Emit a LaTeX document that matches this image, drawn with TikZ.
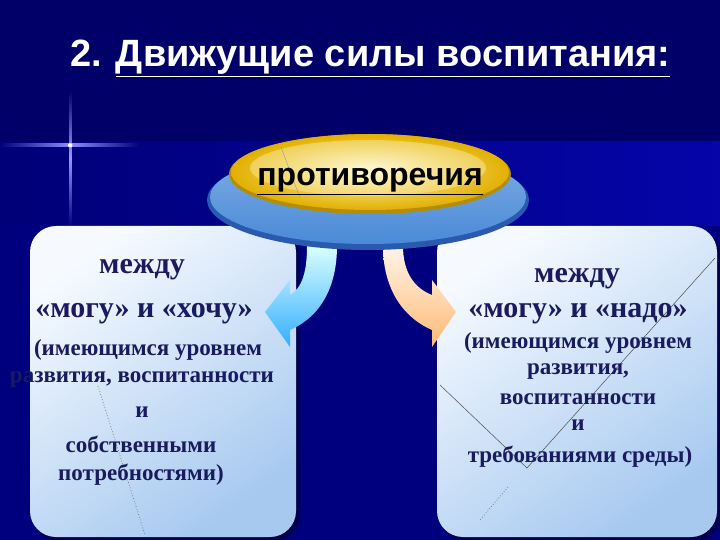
\documentclass[tikz,border=0pt]{standalone}
\usepackage{fontspec}
\setmainfont{Liberation Serif}
\newfontfamily\arialf{Liberation Sans}
\definecolor{bgtop}{HTML}{000068}
\definecolor{bgbot}{HTML}{00007E}
\definecolor{bandl}{HTML}{000078}
\definecolor{bandr}{HTML}{0505A8}
\definecolor{boxl}{HTML}{F6FAFF}
\definecolor{boxr}{HTML}{9DC3EE}
\definecolor{txtc}{HTML}{1A1A5E}
\definecolor{ellb}{HTML}{4A8AD8}
\definecolor{ellbd}{HTML}{2A5AB0}
\definecolor{ellyo}{HTML}{E2B000}
\definecolor{ellyi}{HTML}{FFF6C0}
\tikzset{
  slidebox/.style={rounded corners=26pt},
  bigt/.style={font=\bfseries\fontsize{30}{34}\selectfont,text=txtc,anchor=base},
  smt/.style={font=\bfseries\fontsize{23}{26}\selectfont,text=txtc,anchor=base},
}
\begin{document}
\begin{tikzpicture}[x=1pt,y=-1pt]
\useasboundingbox (0,0) rectangle (720,540);
% background
\fill[bgtop] (0,0) rectangle (720,142);
\shade[left color=bandl,right color=bandr] (0,142) rectangle (720,226);
\fill[bgbot] (0,226) rectangle (720,540);
% star
\shade[top color=bgtop,bottom color=bgbot,middle color=blue!40!white] (69,90) rectangle (71.5,226);
\shade[left color=bandl,right color=bandl,middle color=blue!45!white] (0,144) rectangle (140,146.5);
\fill[white] (70.2,145.3) circle (2.2);
% title
\node[anchor=base west,text=white,font=\arialf\bfseries\fontsize{38}{42}\selectfont,inner sep=0pt] (title) at (70,67)
  {2. \underline{Движущие силы воспитания:}};
% boxes
\fill[black!70!blue,slidebox] (33,230) rectangle (300,541);
\shade[slidebox,top color=boxl,bottom color=boxr!90!white,shading angle=35] (30,226) rectangle (296,537);
\fill[black!70!blue,slidebox] (441,230) rectangle (721,541);
\shade[slidebox,top color=boxl,bottom color=boxr!90!white,shading angle=35] (437,226) rectangle (717,537);
% artifacts
\draw[black!70,line width=0.5pt] (440,385) -- (527,468) -- (715,258);
\draw[black!50,dotted,line width=0.8pt] (98,386) -- (145,535);
\draw[black!50,dotted,line width=0.8pt] (508,487) -- (480,520);
% arrows
\shade[top color=cyan!15!white,bottom color=cyan!60!blue!80!white] (307,246) .. controls (307,272) and (302,288) .. (290,295) -- (290,280) -- (265,312) -- (290,347) -- (290,330) .. controls (322,316) and (337,285) .. (337,246) -- cycle;
\shade[top color=orange!8!white,bottom color=orange!55!white] (403,246) .. controls (403,272) and (414,288) .. (432,295) -- (432,280) -- (456,312) -- (432,347) -- (432,330) .. controls (400,316) and (383,285) .. (383,246) -- cycle;
% ellipse
\fill[ellbd] (368,200) ellipse (161 and 50);
\shade[top color=ellb!70!white,bottom color=ellb] (368,197) ellipse (158 and 47);
\fill[ellyo!80!black] (370,174) ellipse (141 and 40);
\shade[inner color=ellyi,outer color=ellyo] (370,172) ellipse (139 and 38);
\shade[inner color=white!60!ellyi,outer color=ellyi!70!ellyo,opacity=0.6] (368,168) ellipse (118 and 28);
\draw[black!40,line width=0.4pt] (281,147) -- (300,198);
\node[text=black,font=\arialf\bfseries\fontsize{32}{36}\selectfont,anchor=base] (ell) at (370,186) {\underline{противоречия}};
% left box texts
\node[bigt] (l1) at (142,273) {между};
\node[bigt] (l2) at (144,317) {«могу» и «хочу»};
\node[smt] (l3) at (148,355) {(имеющимся уровнем};
\node[smt] (l4) at (142,382) {развития, воспитанности};
\node[smt] (l5) at (142,417) {и};
\node[smt] (l6) at (141,452) {собственными};
\node[smt] (l7) at (141,480) {потребностями)};
% right box texts
\node[bigt] (r1) at (577,282) {между};
\node[bigt] (r2) at (578,317) {«могу» и «надо»};
\node[smt] (r3) at (578,348) {(имеющимся уровнем};
\node[smt] (r4) at (578,374) {развития,};
\node[smt] (r5) at (578,404) {воспитанности};
\node[smt] (r6) at (578,430) {и};
\node[smt] (r7) at (580,462) {требованиями среды)};
\end{tikzpicture}
\end{document}
